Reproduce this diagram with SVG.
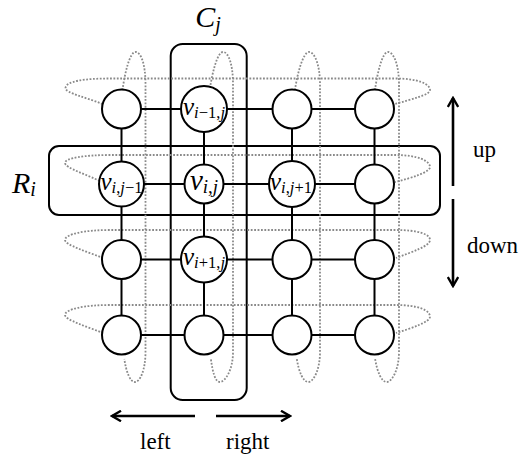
<svg xmlns="http://www.w3.org/2000/svg" width="520" height="455" viewBox="0 0 520 455">
<style>
.box{fill:none;stroke:#000;stroke-width:2}
.dot{fill:none;stroke:#8a8a8a;stroke-width:1.8;stroke-dasharray:1.8 1.6}
.edge{stroke:#000;stroke-width:2;fill:none}
.node{fill:#fff;stroke:#000;stroke-width:2}
.arr{stroke:#000;stroke-width:2.6;fill:none}
.lbl{font-family:"Liberation Serif",serif;font-size:23px;fill:#000}
.math{font-family:"Liberation Serif",serif;font-style:italic;fill:#000}
.up{font-style:normal}
</style>
<defs>
<marker id="ah" viewBox="0 0 12 12" markerWidth="12" markerHeight="12" refX="10" refY="6" orient="auto" markerUnits="userSpaceOnUse">
<path d="M1,0.8 L10,6 L1,11.2" fill="none" stroke="#000" stroke-width="2.4"/>
</marker>
</defs>
<rect width="520" height="455" fill="#fff"/>
<g id="groups">
<rect id="Ri" class="box" x="49" y="146" width="391" height="69" rx="10"/>
<rect id="Cj" class="box" x="170.7" y="44" width="76" height="356" rx="12"/>
</g>
<g id="rings">
<path class="dot" d="M102.5,104 C88,98 65,93 65.5,88 C66,81 85,78.5 110,78.5 L395,78.5 C418,78.5 430,84 430,90 C430,95 412,99 395,104"/>
<path class="dot" d="M99.5,181 C88,175 65,168 65,163 C65,158 85,155 110,155 L395,155 C418,155 430,161 430,167 C430,172 412,178 395,182"/>
<path class="dot" d="M103,258 C88,252 65,245 65,240 C65,234 85,230 110,230 L395,230 C418,230 430,234 430,240 C430,246 412,252 396,258"/>
<path class="dot" d="M103,333 C88,327 65,320 65,315 C65,309 85,305 110,305 L395,305 C418,305 430,310 430,316.7 C430,322 412,328 396,333"/>
<path class="dot" d="M122.5,90 C124.5,75 129.5,52 135.5,52 C141.5,52 145.5,66 145.5,84 L145.5,352 C145.5,370 140,382 135,382 C130,382 126.3,372 124.3,359"/>
<path class="dot" d="M210,88 C212,75 217,52 223,52 C229,52 233,66 233,84 L233,352 C233,370 225,382 220,382 C215,382 212.7,372 210.7,358"/>
<path class="dot" d="M295,90 C297,75 303,52 309,52 C315,52 320,66 320,84 L320,352 C320,370 313.3,382 308.3,382 C303.3,382 298.7,372 296.7,358"/>
<path class="dot" d="M375,90 C377,75 382,52 388,52 C394,52 399,66 399,84 L399,352 C399,370 391.7,382 386.7,382 C381.7,382 377,372 375,358"/>
</g>
<g id="connectors">
<line class="edge" x1="121.5" y1="109" x2="374.5" y2="109"/>
<line class="edge" x1="121.5" y1="184" x2="374.5" y2="184"/>
<line class="edge" x1="121.5" y1="259.5" x2="374.5" y2="259.5"/>
<line class="edge" x1="121.5" y1="335" x2="374.5" y2="335"/>
<line class="edge" x1="121.5" y1="109" x2="121.5" y2="335"/>
<line class="edge" x1="204" y1="109" x2="204" y2="335"/>
<line class="edge" x1="292" y1="109" x2="292" y2="335"/>
<line class="edge" x1="374.5" y1="109" x2="374.5" y2="335"/>
</g>
<g id="n11"><circle class="node" cx="121.5" cy="109" r="19.5"/></g>
<g id="n12"><circle class="node" cx="204" cy="109" r="23"/>
<text class="math" x="204" y="114.5" text-anchor="middle" font-size="25">v<tspan font-size="16.5" dy="3">i<tspan class="up">−1,</tspan>j</tspan></text></g>
<g id="n13"><circle class="node" cx="292" cy="109" r="19.5"/></g>
<g id="n14"><circle class="node" cx="374.5" cy="109" r="19.5"/></g>
<g id="n21"><circle class="node" cx="121.5" cy="184" r="22.5"/>
<text class="math" x="121.5" y="189.5" text-anchor="middle" font-size="25">v<tspan font-size="16.5" dy="3">i<tspan class="up">,</tspan>j<tspan class="up">−1</tspan></tspan></text></g>
<g id="n22"><circle class="node" cx="204" cy="184" r="19.5"/>
<text class="math" x="204" y="189.5" text-anchor="middle" font-size="29">v<tspan font-size="19" dy="3">i<tspan class="up">,</tspan>j</tspan></text></g>
<g id="n23"><circle class="node" cx="292" cy="184" r="23"/>
<text class="math" x="291" y="189.5" text-anchor="middle" font-size="25">v<tspan font-size="16.5" dy="3">i<tspan class="up">,</tspan>j<tspan class="up">+1</tspan></tspan></text></g>
<g id="n24"><circle class="node" cx="374.5" cy="184" r="19.5"/></g>
<g id="n31"><circle class="node" cx="121.5" cy="259.5" r="19.5"/></g>
<g id="n32"><circle class="node" cx="204" cy="259.5" r="23"/>
<text class="math" x="204" y="265" text-anchor="middle" font-size="25">v<tspan font-size="16.5" dy="3">i<tspan class="up">+1,</tspan>j</tspan></text></g>
<g id="n33"><circle class="node" cx="292" cy="259.5" r="19.5"/></g>
<g id="n34"><circle class="node" cx="374.5" cy="259.5" r="19.5"/></g>
<g id="n41"><circle class="node" cx="121.5" cy="335" r="19.5"/></g>
<g id="n42"><circle class="node" cx="204" cy="335" r="19.5"/></g>
<g id="n43"><circle class="node" cx="292" cy="335" r="19.5"/></g>
<g id="n44"><circle class="node" cx="374.5" cy="335" r="19.5"/></g>
<g id="labels">
<text class="math" x="208" y="27" text-anchor="middle" font-size="30">C<tspan font-size="20" dy="4">j</tspan></text>
<text class="math" x="12" y="193" font-size="30">R<tspan font-size="20" dy="3">i</tspan></text>
</g>
<g id="arrows">
<line class="arr" x1="453" y1="186" x2="453" y2="98" marker-end="url(#ah)"/>
<line class="arr" x1="453" y1="199" x2="453" y2="286" marker-end="url(#ah)"/>
<line class="arr" x1="195" y1="416" x2="112" y2="416" marker-end="url(#ah)"/>
<line class="arr" x1="216" y1="416" x2="290" y2="416" marker-end="url(#ah)"/>
<text class="lbl" x="473" y="157">up</text>
<text class="lbl" x="467" y="253">down</text>
<text class="lbl" x="140" y="449">left</text>
<text class="lbl" x="226" y="449">right</text>
</g>
</svg>
